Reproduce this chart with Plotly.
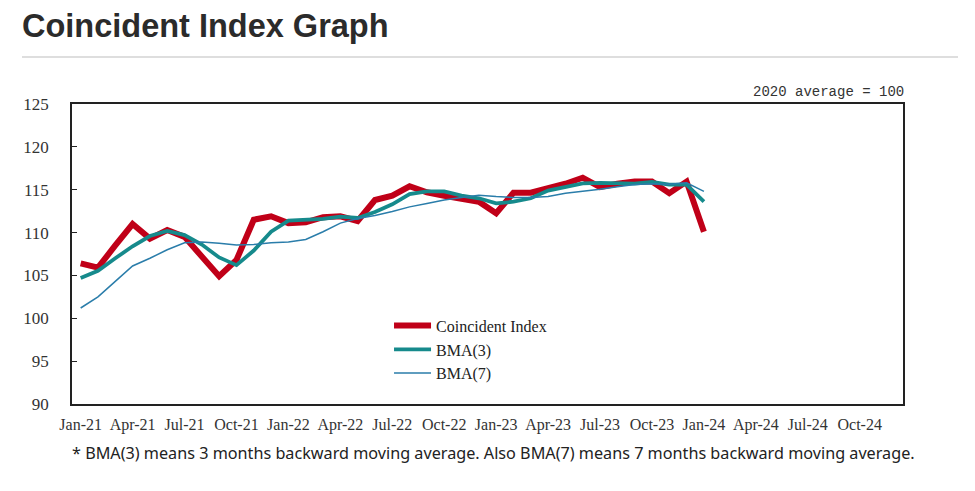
import plotly.graph_objects as go

# ---- data ----
month_names = ["Jan", "Feb", "Mar", "Apr", "May", "Jun", "Jul", "Aug", "Sep", "Oct", "Nov", "Dec"]
years = ["21", "22", "23", "24"]
all_months = [f"{m}-{y}" for y in years for m in month_names]  # axis categories Jan-21 .. Dec-24

coincident = [106.4, 105.9, 108.5, 111.0, 109.3, 110.3, 109.5, 107.2, 104.9, 106.8, 111.5, 111.9,
              111.1, 111.2, 111.8, 111.9, 111.35, 113.8, 114.3, 115.4, 114.7, 114.3, 114.0, 113.6,
              112.25, 114.65, 114.65, 115.1, 115.7, 116.4, 115.3, 115.7, 115.95, 115.95, 114.6, 115.95,
              110.1]
bma3 = [104.7, 105.55, 107.0, 108.4, 109.6, 110.2, 109.7, 108.6, 107.1, 106.2, 107.9, 110.1,
        111.4, 111.5, 111.6, 111.85, 111.7, 112.4, 113.3, 114.5, 114.8, 114.8, 114.3, 114.0,
        113.4, 113.6, 114.0, 114.9, 115.3, 115.75, 115.8, 115.75, 115.7, 115.9, 115.6, 115.6,
        113.6]
bma7 = [101.2, 102.5, 104.3, 106.1, 107.0, 108.0, 108.8, 108.9, 108.75, 108.55, 108.6, 108.8,
        108.9, 109.2, 110.1, 111.1, 111.65, 112.0, 112.45, 113.0, 113.4, 113.8, 114.1, 114.35,
        114.2, 114.1, 114.1, 114.2, 114.6, 114.8, 115.05, 115.35, 115.6, 115.7, 115.65, 115.8,
        114.8]
data_months = all_months[:len(coincident)]
tick_labels = all_months[::3]
y_ticks = [90, 95, 100, 105, 110, 115, 120, 125]

# ---- figure ----
# the page body has an 8px margin, so the figure is 8px smaller and everything is shifted by -8
W, H = 967, 483
fig = go.Figure()
fig.add_trace(go.Scatter(x=data_months, y=coincident, mode="lines", name="Coincident Index",
                         line=dict(color="#C00018", width=6)))
fig.add_trace(go.Scatter(x=data_months, y=bma3, mode="lines", name="BMA(3)",
                         line=dict(color="#168A8C", width=3.8)))
fig.add_trace(go.Scatter(x=data_months, y=bma7, mode="lines", name="BMA(7)",
                         line=dict(color="#2A7DAA", width=1.5)))

serif = "Liberation Serif, DejaVu Serif, serif"
fig.update_layout(
    width=W, height=H,
    margin=dict(l=64, r=72, t=96, b=87),
    paper_bgcolor="white", plot_bgcolor="white",
    showlegend=True,
    legend=dict(x=0.3815, y=0.318, xanchor="left", yanchor="top",
                bgcolor="rgba(0,0,0,0)", font=dict(family=serif, size=16, color="#222"),
                itemwidth=37, tracegroupgap=0),
    title=dict(text="<b>Coincident Index Graph</b>", x=14 / W, xanchor="left",
               xref="container", yref="container", y=1 - 18 / H, yanchor="middle",
               font=dict(family="Liberation Sans, Arial, sans-serif", size=32.5, color="#2b2b2b")),
)
fig.update_xaxes(type="category", categoryarray=all_months, range=[-0.5, len(all_months) - 0.5],
                 tickvals=tick_labels, ticktext=tick_labels, ticks="",
                 showline=True, linecolor="#222", linewidth=1.5, mirror=True,
                 showgrid=False, zeroline=False, tickangle=0,
                 tickfont=dict(family=serif, size=16, color="#333"), ticklabelstandoff=5)
fig.update_yaxes(range=[90, 125], tickvals=y_ticks, ticks="inside", ticklen=5, tickcolor="#222",
                 showline=True, linecolor="#222", linewidth=1.5, mirror=True,
                 showgrid=False, zeroline=False,
                 tickfont=dict(family=serif, size=17, color="#333"), ticklabelstandoff=18)

# rule under the title
fig.add_shape(type="line", xref="paper", yref="paper",
              x0=(22 - 72) / 831, x1=(958 - 72) / 831, y0=(404 - 57) / 300, y1=(404 - 57) / 300,
              line=dict(color="#bdbdbd", width=1))
fig.add_annotation(text="2020 average = 100", xref="paper", yref="paper",
                   x=(906 - 72) / 831, y=(404 - 92) / 300, xanchor="right", yanchor="middle",
                   showarrow=False, font=dict(family="Liberation Mono, monospace", size=14, color="#333"))
fig.add_annotation(text="* BMA(3) means 3 months backward moving average. Also BMA(7) means 7 months backward moving average.",
                   xref="paper", yref="paper", x=(70 - 72) / 831, y=(404 - 453) / 300,
                   xanchor="left", yanchor="middle", showarrow=False,
                   font=dict(family="Noto Sans, Liberation Sans, sans-serif", size=16.2, color="#222"))

fig.write_html("out.html")
